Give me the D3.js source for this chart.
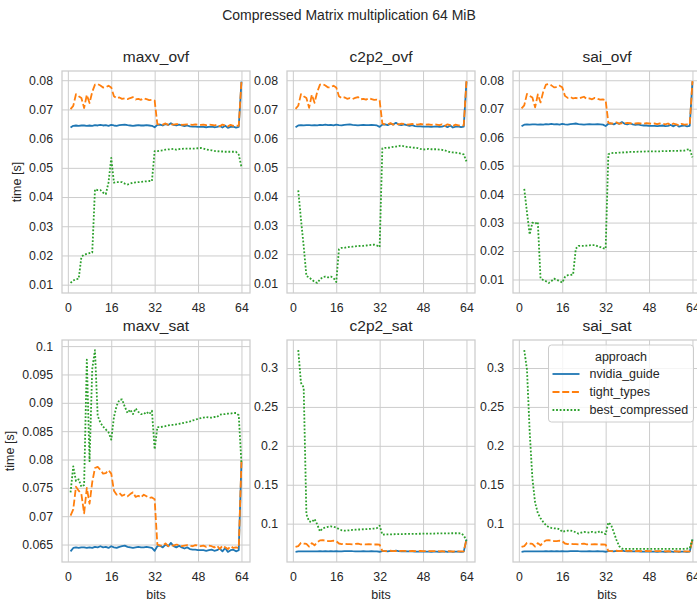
<!DOCTYPE html>
<html>
<head>
<meta charset="utf-8">
<script src="https://cdn.jsdelivr.net/npm/d3@7"></script>
<style>
  body { margin: 0; background: #fff; }
  svg { font-family: "Liberation Sans", Arial, sans-serif; }
</style>
</head>
<body>
<svg id="chart" width="697" height="601"></svg>
<script>
// bit widths on the x axis
const bits = [1, 2, 3, 4, 5, 6, 7, 8, 9, 10, 11, 12, 13, 14, 15, 16,
	17, 18, 19, 20, 21, 22, 23, 24, 25, 26, 27, 28, 29, 30, 31, 32,
	33, 34, 35, 36, 37, 38, 39, 40, 41, 42, 43, 44, 45, 46, 47, 48,
	49, 50, 51, 52, 53, 54, 55, 56, 57, 58, 59, 60, 61, 62, 63, 64];

// nvidia_guide and tight_types look the same in every panel
const nvidiaGuide = [0.0638, 0.0644, 0.0645, 0.0644, 0.0645, 0.0645, 0.0644, 0.0645, 0.0644, 0.0646, 0.0645, 0.0647, 0.0645, 0.0646, 0.0644, 0.0647,
	0.0645, 0.0644, 0.0646, 0.0647, 0.0648, 0.0646, 0.0645, 0.0644, 0.0645, 0.0646, 0.0645, 0.0645, 0.0646, 0.0645, 0.0644, 0.0639,
	0.0647, 0.0648, 0.0645, 0.0650, 0.0647, 0.0653, 0.0647, 0.0645, 0.0648, 0.0645, 0.0643, 0.0645, 0.0642, 0.0641, 0.0641, 0.0640,
	0.0640, 0.0640, 0.0639, 0.0640, 0.0641, 0.0639, 0.0640, 0.0643, 0.0638, 0.0644, 0.0637, 0.0640, 0.0641, 0.0638, 0.0640, 0.0795];

const tightTypes = [0.0701, 0.0712, 0.0752, 0.0745, 0.0739, 0.0705, 0.0750, 0.0722, 0.0760, 0.0785, 0.0787, 0.0782, 0.0775, 0.0776, 0.0781, 0.0775,
	0.0745, 0.0738, 0.0741, 0.0736, 0.0738, 0.0735, 0.0739, 0.0742, 0.0734, 0.0736, 0.0733, 0.0738, 0.0735, 0.0732, 0.0733, 0.0730,
	0.0650, 0.0648, 0.0648, 0.0652, 0.0647, 0.0649, 0.0648, 0.0650, 0.0649, 0.0647, 0.0648, 0.0649, 0.0648, 0.0647, 0.0649, 0.0648,
	0.0647, 0.0648, 0.0646, 0.0648, 0.0647, 0.0645, 0.0648, 0.0642, 0.0648, 0.0645, 0.0642, 0.0647, 0.0644, 0.0645, 0.0644, 0.0797];

// best_compressed, one series per panel
const bestMaxvOvf = [0.0106, 0.0114, 0.0119, 0.0120, 0.0195, 0.0203, 0.0205, 0.0208, 0.0210, 0.0426, 0.0424, 0.0424, 0.0415, 0.0410, 0.0450, 0.0534,
	0.0449, 0.0451, 0.0451, 0.0451, 0.0446, 0.0443, 0.0446, 0.0449, 0.0450, 0.0451, 0.0452, 0.0453, 0.0454, 0.0455, 0.0455, 0.0557,
	0.0557, 0.0559, 0.0560, 0.0562, 0.0563, 0.0564, 0.0565, 0.0562, 0.0564, 0.0565, 0.0566, 0.0566, 0.0566, 0.0566, 0.0566, 0.0567,
	0.0568, 0.0566, 0.0563, 0.0561, 0.0560, 0.0558, 0.0557, 0.0556, 0.0556, 0.0555, 0.0555, 0.0555, 0.0555, 0.0555, 0.0545, 0.0503];

const bestC2p2Ovf = [null, 0.0420, 0.0320, 0.0228, 0.0125, 0.0120, 0.0112, 0.0105, 0.0101, 0.0113, 0.0121, 0.0123, 0.0120, 0.0123, 0.0118, 0.0104,
	0.0217, 0.0222, 0.0222, 0.0224, 0.0225, 0.0226, 0.0227, 0.0228, 0.0229, 0.0229, 0.0230, 0.0231, 0.0232, 0.0233, 0.0230, 0.0225,
	0.0565, 0.0567, 0.0567, 0.0568, 0.0570, 0.0571, 0.0573, 0.0575, 0.0572, 0.0570, 0.0569, 0.0568, 0.0567, 0.0566, 0.0563, 0.0561,
	0.0562, 0.0563, 0.0562, 0.0562, 0.0562, 0.0561, 0.0560, 0.0558, 0.0555, 0.0552, 0.0551, 0.0550, 0.0549, 0.0547, 0.0544, 0.0520];

const bestSaiOvf = [null, 0.0418, 0.0336, 0.0258, 0.0300, 0.0296, 0.0302, 0.0104, 0.0098, 0.0094, 0.0088, 0.0094, 0.0103, 0.0098, 0.0095, 0.0089,
	0.0109, 0.0115, 0.0116, 0.0117, 0.0208, 0.0218, 0.0218, 0.0218, 0.0219, 0.0220, 0.0221, 0.0221, 0.0217, 0.0214, 0.0210, 0.0208,
	0.0540, 0.0544, 0.0545, 0.0545, 0.0546, 0.0546, 0.0547, 0.0547, 0.0548, 0.0548, 0.0548, 0.0549, 0.0549, 0.0549, 0.0550, 0.0550,
	0.0550, 0.0550, 0.0550, 0.0550, 0.0551, 0.0551, 0.0551, 0.0552, 0.0552, 0.0552, 0.0552, 0.0553, 0.0553, 0.0556, 0.0558, 0.0529];

const bestMaxvSat = [0.0742, 0.0788, 0.0762, 0.0765, 0.0752, 0.0755, 0.0976, 0.0797, 0.0960, 0.0993, 0.0877, 0.0865, 0.0858, 0.0853, 0.0848, 0.0835,
	0.0875, 0.0895, 0.0905, 0.0906, 0.0893, 0.0882, 0.0888, 0.0880, 0.0890, 0.0884, 0.0880, 0.0880, 0.0884, 0.0880, 0.0886, 0.0818,
	0.0857, 0.0857, 0.0858, 0.0859, 0.0860, 0.0861, 0.0861, 0.0862, 0.0863, 0.0864, 0.0865, 0.0866, 0.0867, 0.0869, 0.0870, 0.0872,
	0.0873, 0.0874, 0.0875, 0.0874, 0.0874, 0.0875, 0.0875, 0.0879, 0.0880, 0.0880, 0.0881, 0.0881, 0.0882, 0.0882, 0.0878, 0.0793];

const bestC2p2Sat = [null, 0.323, 0.281, 0.275, 0.112, 0.103, 0.102, 0.106, 0.099, 0.090, 0.094, 0.095, 0.096, 0.0965, 0.096, 0.095,
	0.093, 0.0915, 0.091, 0.0912, 0.0915, 0.092, 0.0922, 0.0925, 0.0925, 0.0928, 0.093, 0.0932, 0.0935, 0.0938, 0.0942, 0.0975,
	0.0860, 0.0861, 0.0862, 0.0863, 0.0864, 0.0865, 0.0866, 0.0866, 0.0867, 0.0868, 0.0868, 0.0869, 0.0869, 0.0870, 0.0870, 0.0871,
	0.0872, 0.0872, 0.0873, 0.0873, 0.0874, 0.0874, 0.0875, 0.0875, 0.0876, 0.0876, 0.0877, 0.0877, 0.0877, 0.0876, 0.0850, 0.0780];

const bestSaiSat = [null, 0.323, 0.298, 0.218, 0.158, 0.127, 0.1135, 0.107, 0.102, 0.098, 0.0955, 0.0945, 0.094, 0.094, 0.093, 0.0894,
	0.0905, 0.091, 0.0912, 0.0905, 0.0888, 0.0872, 0.0885, 0.0894, 0.0890, 0.0886, 0.0895, 0.0888, 0.0885, 0.0905, 0.0880, 0.0866,
	0.1015, 0.0985, 0.0890, 0.0790, 0.0710, 0.0680, 0.0675, 0.0676, 0.0677, 0.0676, 0.0675, 0.0676, 0.0677, 0.0676, 0.0676, 0.0675,
	0.0676, 0.0677, 0.0676, 0.0676, 0.0675, 0.0676, 0.0677, 0.0676, 0.0676, 0.0677, 0.0676, 0.0676, 0.0677, 0.0678, 0.0685, 0.0796];

const panelNames = ["maxv_ovf", "c2p2_ovf", "sai_ovf", "maxv_sat", "c2p2_sat", "sai_sat"];
const bestSeries = [bestMaxvOvf, bestC2p2Ovf, bestSaiOvf, bestMaxvSat, bestC2p2Sat, bestSaiSat];
const approaches = ["nvidia_guide", "tight_types", "best_compressed"];

const xTicks = [0, 16, 32, 48, 64];
const yTicksOvf = [0.01, 0.02, 0.03, 0.04, 0.05, 0.06, 0.07, 0.08];
const yTicksMaxvSat = [0.065, 0.07, 0.075, 0.08, 0.085, 0.09, 0.095, 0.1];
const yTicksSat = [0.1, 0.15, 0.2, 0.25, 0.3];
const panelYTicks = [yTicksOvf, yTicksOvf, yTicksOvf, yTicksMaxvSat, yTicksSat, yTicksSat];

(function(){

	const svg = d3.select("#chart");

	const colors = ["#1f77b4", "#ff7f0e", "#2ca02c"];
	const dashes = [null, "7,2.7", "1.8,1.8"];
	const lineWidth = 1.8;
	const textColor = "#262626";
	const gridColor = "#cccccc";
	const tickFont = "12.3px";

	// panel frames in pixels (matplotlib subplot grid)
	const colLeft = [62, 287, 513];
	const rowTop = [71, 340];
	const panelW = 188;
	const panelH = 222;
	const ylabelX = [17, 10];

	svg.append("text")
		.attr("x", 349)
		.attr("y", 15)
		.attr("dy", "0.35em")
		.attr("text-anchor", "middle")
		.attr("fill", textColor)
		.style("font-size", "14px")
		.text("Compressed Matrix multiplication 64 MiB");

	const fmt = function(v) { return String(+v.toFixed(4)); };

	function drawPanel(i) {
		const col = i % 3;
		const row = Math.floor(i / 3);
		const left = colLeft[col];
		const top = rowTop[row];

		const series = [nvidiaGuide, tightTypes, bestSeries[i]];

		// matplotlib style autoscale: data range plus 5% each side
		const xPad = (bits[bits.length - 1] - bits[0]) * 0.05;
		const x = d3.scaleLinear()
			.domain([bits[0] - xPad, bits[bits.length - 1] + xPad])
			.range([left, left + panelW]);

		const allVals = series.flat().filter(function(v) { return v != null; });
		const ext = d3.extent(allVals);
		const yPad = (ext[1] - ext[0]) * 0.05;
		const y = d3.scaleLinear()
			.domain([ext[0] - yPad, ext[1] + yPad])
			.range([top + panelH, top]);

		const g = svg.append("g");

		// grid + tick labels via d3 axes
		const yAxis = g.append("g")
			.attr("transform", "translate(" + left + ",0)")
			.call(d3.axisLeft(y).tickValues(panelYTicks[i]).tickFormat(fmt).tickSize(-panelW).tickPadding(9));
		const xAxis = g.append("g")
			.attr("transform", "translate(0," + (top + panelH) + ")")
			.call(d3.axisBottom(x).tickValues(xTicks).tickSize(-panelH).tickPadding(10));

		[yAxis, xAxis].forEach(function(ax) {
			ax.select(".domain").remove();
			ax.selectAll("line").attr("stroke", gridColor).attr("stroke-width", 1);
			ax.selectAll("text")
				.attr("fill", textColor)
				.style("font-size", tickFont)
				.style("font-family", "'Liberation Sans', Arial, sans-serif");
		});

		g.append("rect")
			.attr("x", left)
			.attr("y", top)
			.attr("width", panelW)
			.attr("height", panelH)
			.attr("fill", "none")
			.attr("stroke", gridColor)
			.attr("stroke-width", 1.25);

		const line = d3.line()
			.defined(function(d) { return d != null; })
			.x(function(d, j) { return x(bits[j]); })
			.y(function(d) { return y(d); });

		series.forEach(function(s, k) {
			g.append("path")
				.datum(s)
				.attr("fill", "none")
				.attr("stroke", colors[k])
				.attr("stroke-width", lineWidth)
				.attr("stroke-dasharray", dashes[k])
				.attr("stroke-linejoin", "round")
				.attr("d", line);
		});

		g.append("text")
			.attr("x", left + panelW / 2)
			.attr("y", top - 14)
			.attr("dy", "0.35em")
			.attr("text-anchor", "middle")
			.attr("fill", textColor)
			.style("font-size", "15.5px")
			.text(panelNames[i]);

		if (col == 0) {
			g.append("text")
				.attr("transform", "translate(" + ylabelX[row] + "," + (top + panelH / 2) + ") rotate(-90)")
				.attr("dy", "0.35em")
				.attr("text-anchor", "middle")
				.attr("fill", textColor)
				.style("font-size", "12.5px")
				.text("time [s]");
		}
		if (row == 1) {
			g.append("text")
				.attr("x", left + panelW / 2)
				.attr("y", top + panelH + 33)
				.attr("dy", "0.35em")
				.attr("text-anchor", "middle")
				.attr("fill", textColor)
				.style("font-size", "12.5px")
				.text("bits");
		}

		// legend sits in the last panel
		if (i == 5) {
			const lg = g.append("g").attr("transform", "translate(" + (left + 35.5) + "," + (top + 5) + ")");
			lg.append("rect")
				.attr("width", 145)
				.attr("height", 77)
				.attr("rx", 3)
				.attr("fill", "white")
				.attr("fill-opacity", 0.8)
				.attr("stroke", gridColor);
			lg.append("text")
				.attr("x", 72.5)
				.attr("y", 12)
				.attr("dy", "0.35em")
				.attr("text-anchor", "middle")
				.attr("fill", textColor)
				.style("font-size", "12.5px")
				.text("approach");
			approaches.forEach(function(name, k) {
				const ry = 29 + k * 18;
				lg.append("line")
					.attr("x1", 4).attr("x2", 31)
					.attr("y1", ry).attr("y2", ry)
					.attr("stroke", colors[k])
					.attr("stroke-width", lineWidth)
					.attr("stroke-dasharray", dashes[k]);
				lg.append("text")
					.attr("x", 41)
					.attr("y", ry)
					.attr("dy", "0.35em")
					.attr("fill", textColor)
					.style("font-size", "12.5px")
					.text(name);
			});
		}
	}

	for (let i = 0; i < panelNames.length; i++) {
		drawPanel(i);
	}

}());
</script>
</body>
</html>
